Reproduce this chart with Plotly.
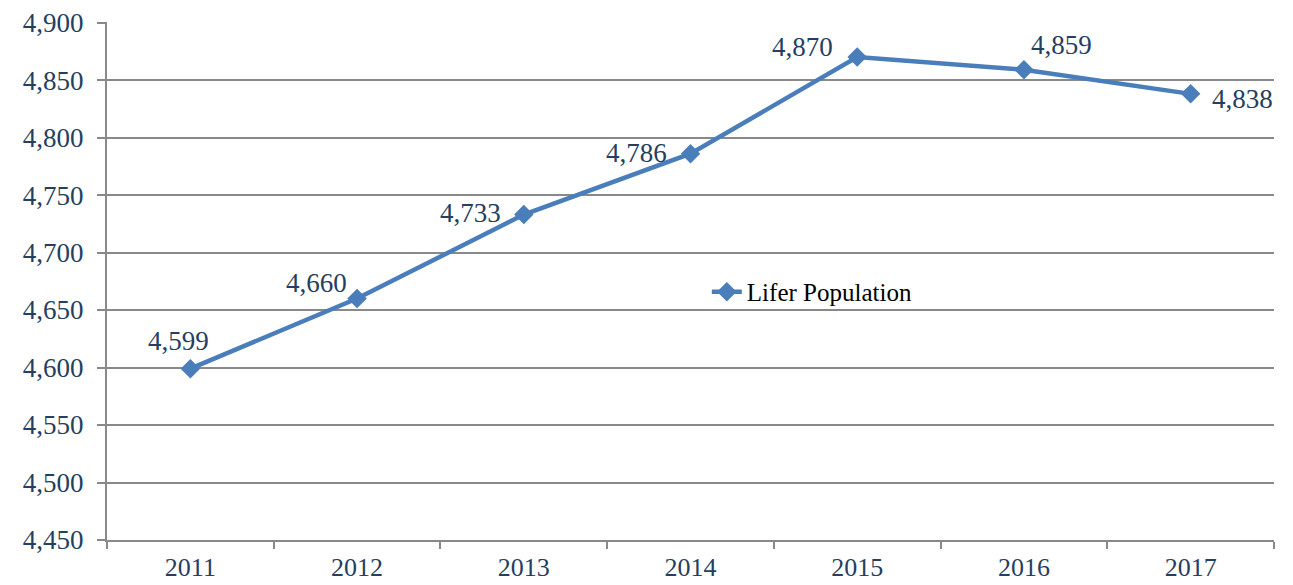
import plotly.graph_objects as go

years = ["2011", "2012", "2013", "2014", "2015", "2016", "2017"]
lifers = [4599, 4660, 4733, 4786, 4870, 4859, 4838]
labels = ["4,599", "4,660", "4,733", "4,786", "4,870", "4,859", "4,838"]
y_ticks = [4450, 4500, 4550, 4600, 4650, 4700, 4750, 4800, 4850, 4900]
# label offsets in pixels (style only)
x_shifts = [-12, -41, -53, -54, -55, 38, 52]
y_shifts = [28, 16, 2, 1, 10, 25, -5]

FONT = "Liberation Serif"
TXT = "#243F60"
BLUE = "#4A7EBB"

fig = go.Figure()
fig.add_trace(go.Scatter(
    x=years, y=lifers, mode="lines+markers", name="Lifer Population",
    line=dict(color=BLUE, width=4.5),
    marker=dict(symbol="diamond", size=15, color=BLUE),
))

for i, (y, t, dx, dy) in enumerate(zip(lifers, labels, x_shifts, y_shifts)):
    fig.add_annotation(x=i, y=y, xref="x", yref="y", text=t, showarrow=False,
                       xshift=dx, yshift=dy,
                       font=dict(family=FONT, size=27, color=TXT))

fig.update_layout(
    width=1285, height=577,
    margin=dict(l=99, r=19, t=14, b=45),
    plot_bgcolor="white", paper_bgcolor="white",
    showlegend=True,
    legend=dict(x=0.514, y=0.479, xanchor="left", yanchor="middle",
                bgcolor="rgba(0,0,0,0)",
                font=dict(family=FONT, size=25, color="black")),
    font=dict(family=FONT, color=TXT),
)
fig.update_xaxes(
    type="category", categoryarray=years, range=[-0.5, 6.5],
    tickson="boundaries", showgrid=False, tickangle=0, automargin=False,
    showline=True, linecolor="#898989", linewidth=2,
    ticks="outside", ticklen=7, tickcolor="#898989", tickwidth=2,
    tickfont=dict(family=FONT, size=26, color=TXT),
    ticklabelstandoff=3,
)
fig.update_yaxes(
    range=[4450, 4900.5], tickmode="array", tickvals=y_ticks,
    ticktext=[f"{v:,}" for v in y_ticks], automargin=False,
    ticklabeloverflow="allow",
    showgrid=True, gridcolor="#898989", gridwidth=1.5,
    showline=True, linecolor="#898989", linewidth=2,
    ticks="outside", ticklen=8, tickcolor="#898989", tickwidth=2,
    tickfont=dict(family=FONT, size=27, color=TXT),
    ticklabelstandoff=8, zeroline=False,
)
fig.write_html("out.html")
